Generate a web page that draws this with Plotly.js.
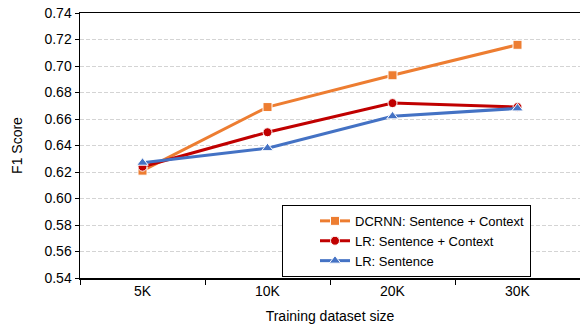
<!DOCTYPE html>
<html><head><meta charset="utf-8">
<script src="https://cdn.plot.ly/plotly-3.0.1.min.js"></script>
<style>html,body{margin:0;padding:0;background:#fff}#chart{width:580px;height:324px}</style>
</head><body><div id="chart"></div>
<script>
const categories = ["5K", "10K", "20K", "30K"];
const dcrnnSentCtx = [0.621, 0.669, 0.693, 0.716];
const lrSentCtx = [0.624, 0.650, 0.672, 0.669];
const lrSent = [0.627, 0.638, 0.662, 0.668];
const yTicks = [0.54,0.56,0.58,0.60,0.62,0.64,0.66,0.68,0.70,0.72,0.74];

function tr(name, y, color, symbol){
  return {x: categories, y: y, name: name, type: 'scatter', mode: 'lines+markers',
    line: {color: color, width: 3},
    marker: {symbol: symbol, size: symbol === 'triangle-up' ? 10 : 9, color: color, line: {color: '#fff', width: 1}},
    cliponaxis: false};
}
const data = [
  tr('DCRNN: Sentence + Context', dcrnnSentCtx, '#ED7D31', 'square'),
  tr('LR: Sentence + Context', lrSentCtx, '#C00000', 'circle'),
  tr('LR: Sentence', lrSent, '#4472C4', 'triangle-up')
];
const layout = {
  width: 580, height: 324,
  margin: {l: 80, r: 0, t: 13, b: 46},
  paper_bgcolor: '#fff', plot_bgcolor: '#fff',
  font: {family: 'Liberation Sans, Arial, sans-serif', size: 14, color: '#000'},
  showlegend: true,
  legend: {x: 0.404, y: 0.14, xanchor: 'left', yanchor: 'middle', bgcolor: '#fff',
    bordercolor: '#000', borderwidth: 1, font: {size: 13}, tracegroupgap: 0, indentation: 32},
  xaxis: {type: 'category', range: [-0.5, 3.5], tickson: 'boundaries', ticks: 'outside', ticklen: 5,
    tickcolor: '#000', showline: true, linecolor: '#000', linewidth: 1.5, mirror: true, showgrid: false,
    zeroline: false, fixedrange: true, tickfont: {size: 14},
    title: {text: 'Training dataset size', standoff: 18, font: {size: 14}}},
  yaxis: {range: [0.54, 0.74], tickvals: yTicks, tickformat: '.2f', ticks: 'outside', ticklen: 4,
    tickcolor: '#000', showline: true, linecolor: '#000', linewidth: 1.5, showgrid: true,
    gridcolor: '#d4d4d4', griddash: '4px,2px', gridwidth: 1, zeroline: false, tickfont: {size: 14},
    title: {text: 'F1 Score', standoff: 18, font: {size: 14}}}
};
Plotly.newPlot('chart', data, layout, {displayModeBar: false, staticPlot: true});
</script></body></html>
